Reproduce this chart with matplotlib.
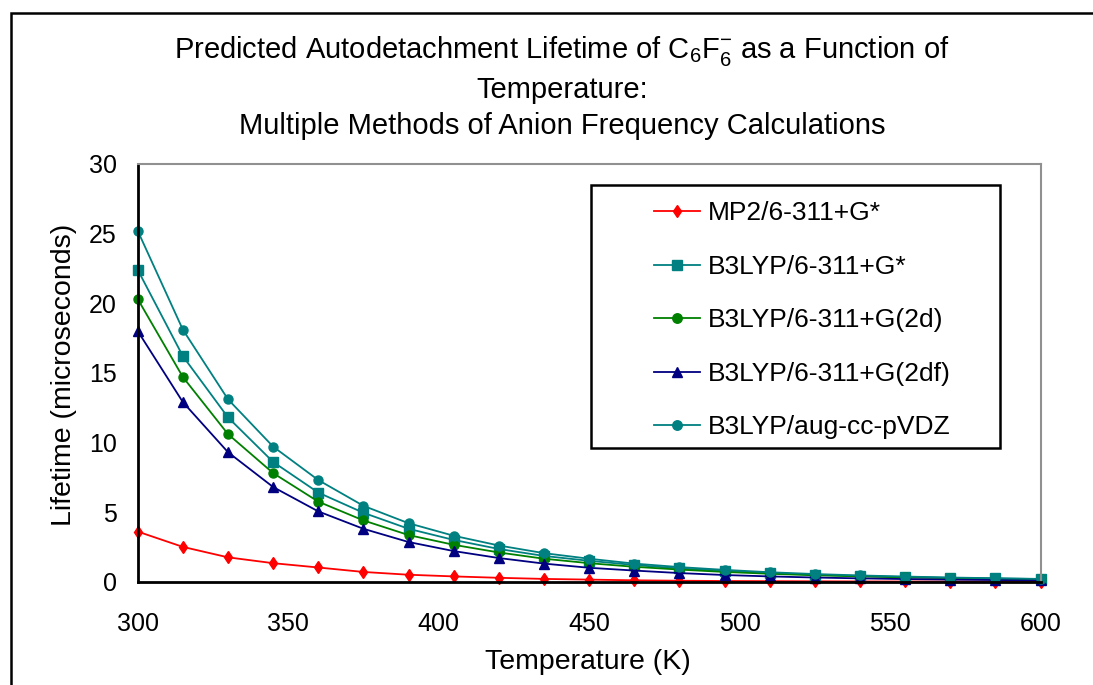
import matplotlib.pyplot as plt
from matplotlib.patches import Rectangle

plt.rcParams["font.family"] = ["Liberation Sans", "DejaVu Sans"]
plt.rcParams["mathtext.default"] = "regular"

# temperature (K) and predicted lifetimes (microseconds)
temps = [300, 315, 330, 345, 360, 375, 390, 405, 420, 435, 450,
         465, 480, 495, 510, 525, 540, 555, 570, 585, 600]
mp2_g = [3.6, 2.5, 1.75, 1.33, 1.02, 0.7, 0.5, 0.38, 0.28, 0.2, 0.15,
         0.1, 0.07, 0.05, 0.04, 0.03, 0.02, 0.015, 0.01, 0.008, 0.006]
b3_g = [22.4, 16.2, 11.8, 8.6, 6.4, 4.95, 3.8, 3.0, 2.35, 1.85, 1.5,
        1.2, 0.95, 0.78, 0.62, 0.5, 0.41, 0.34, 0.28, 0.23, 0.19]
b3_2d = [20.3, 14.7, 10.6, 7.8, 5.75, 4.4, 3.35, 2.65, 2.1, 1.65, 1.33,
         1.07, 0.87, 0.7, 0.57, 0.46, 0.38, 0.31, 0.26, 0.21, 0.17]
b3_2df = [18.0, 12.9, 9.3, 6.8, 5.05, 3.8, 2.85, 2.2, 1.7, 1.3, 1.0,
          0.8, 0.62, 0.48, 0.38, 0.3, 0.24, 0.19, 0.15, 0.12, 0.1]
b3_aug = [25.2, 18.1, 13.1, 9.7, 7.3, 5.45, 4.2, 3.3, 2.6, 2.05, 1.65,
          1.3, 1.05, 0.85, 0.68, 0.55, 0.45, 0.37, 0.3, 0.25, 0.2]

labels = ["MP2/6-311+G*", "B3LYP/6-311+G*", "B3LYP/6-311+G(2d)",
          "B3LYP/6-311+G(2df)", "B3LYP/aug-cc-pVDZ"]
series = [mp2_g, b3_g, b3_2d, b3_2df, b3_aug]
colors = ["#FF0000", "#008080", "#008000", "#000080", "#008080"]
markers = ["d", "s", "o", "^", "o"]
msizes = [6, 6.5, 6.5, 7, 6.5]

fig = plt.figure(figsize=(10.93, 6.85), dpi=100)
ax = fig.add_axes([0.126, 0.1508, 0.826, 0.6098])

for vals, lab, c, m, ms in zip(series, labels, colors, markers, msizes):
    ax.plot(temps, vals, color=c, marker=m, markersize=ms, lw=1.3,
            label=lab, clip_on=False)

ax.set_xlim(300, 600)
ax.set_ylim(0, 30)
ax.set_xticks(range(300, 601, 50))
ax.set_yticks(range(0, 31, 5))
ax.tick_params(length=0, labelsize=18)
ax.tick_params(axis="x", pad=22)
ax.tick_params(axis="y", pad=15)
for s in ["left", "bottom"]:
    ax.spines[s].set_color("black")
    ax.spines[s].set_linewidth(2)
for s in ["top", "right"]:
    ax.spines[s].set_color("#909090")
    ax.spines[s].set_linewidth(1.5)

fig.text(588 / 1093, 1 - 662 / 685, "Temperature (K)", fontsize=20.5,
         ha="center", va="center")
fig.text(64 / 1093, 1 - 375 / 685, "Lifetime (microseconds)", fontsize=20.5,
         ha="center", va="center", rotation=90)

title = ("Predicted Autodetachment Lifetime of C$_6$F$_6^{-}$ as a Function of\n"
         "Temperature:\nMultiple Methods of Anion Frequency Calculations")
fig.text(562 / 1093, 1 - 87 / 685, title, fontsize=21, ha="center",
         va="center", linespacing=1.35)

# legend box drawn separately (Excel style wide padding)
leg = ax.legend(loc="upper left", bbox_to_anchor=(641 / 1093, 1 - 188 / 685),
                bbox_transform=fig.transFigure, frameon=False, fontsize=19,
                handlelength=1.75, handletextpad=0.3, labelspacing=1.12,
                borderpad=0, markerscale=1.05)
fig.add_artist(Rectangle((591 / 1093, 1 - 448 / 685), 409 / 1093, 263 / 685,
                         transform=fig.transFigure, fill=False,
                         edgecolor="black", lw=1.8))

# outer chart border
fig.add_artist(Rectangle((11 / 1093, -0.05), 1.2, 1 - 13 / 685 + 0.05,
                         transform=fig.transFigure, fill=False,
                         edgecolor="black", lw=1.8))

plt.savefig("out.png", dpi=100)
